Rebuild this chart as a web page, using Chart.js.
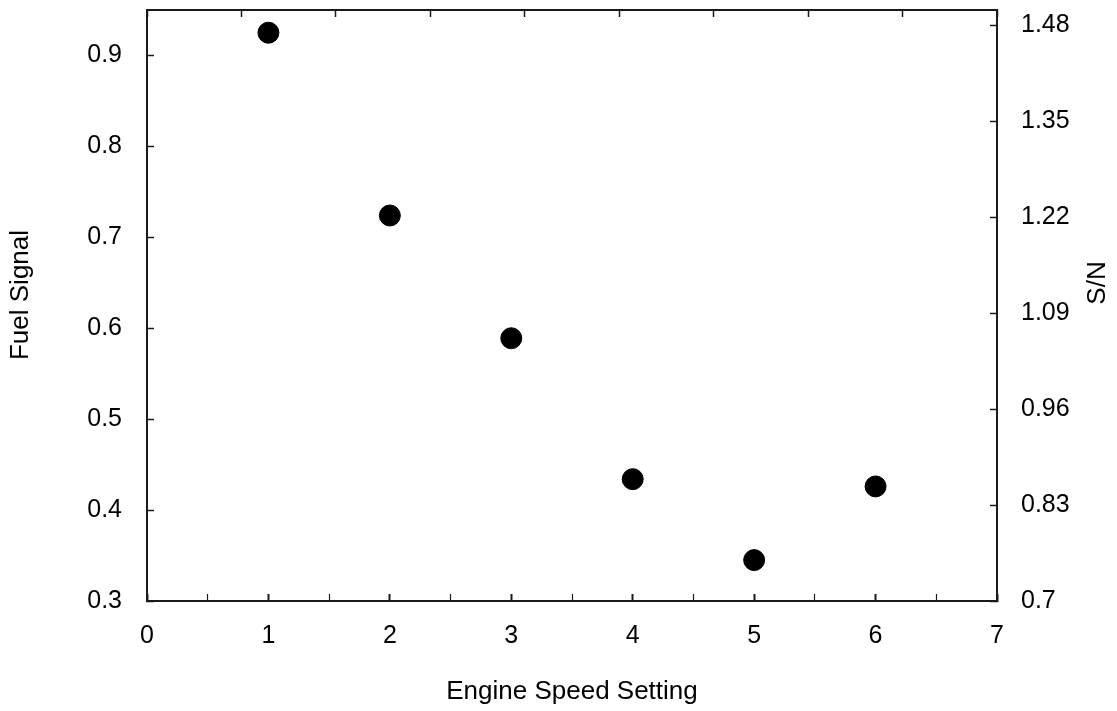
<!DOCTYPE html>
<html>
<head>
<meta charset="utf-8">
<title>Fuel Signal vs Engine Speed Setting</title>
<script src="https://cdn.jsdelivr.net/npm/chart.js@4.4.1/dist/chart.umd.min.js"></script>
<style>
    html, body { margin: 0; padding: 0; background: #fff; }
    #wrap { width: 1117px; height: 711px; position: relative; }
</style>
</head>
<body>
<div id="wrap"><canvas id="scatterChart"></canvas></div>
<script>
// 数据
const speedSettings = [1, 2, 3, 4, 5, 6];
const fuelSignal = [0.925, 0.724, 0.589, 0.434, 0.345, 0.426];

// 刻度
const xTicks = [0, 0.5, 1, 1.5, 2, 2.5, 3, 3.5, 4, 4.5, 5, 5.5, 6, 6.5, 7];
const leftTicks = [0.3, 0.4, 0.5, 0.6, 0.7, 0.8, 0.9];
const rightTicks = [0.7, 0.83, 0.96, 1.09, 1.22, 1.35, 1.48];
const topTicks = [0, 1, 2, 3, 4, 5, 6, 7, 8, 9];

const FONT = 'Liberation Sans, Arial, Helvetica, sans-serif';
const AXIS_COLOR = '#1a1a1a';

Chart.defaults.font.family = FONT;
Chart.defaults.color = '#000';

function useTicks(values) {
    return scale => { scale.ticks = values.map(v => ({ value: v })); };
}

// 固定轴的尺寸，去掉标签带来的额外留白
function fixSize(size) {
    return scale => {
        if (scale.isHorizontal()) {
            scale.height = size;
            scale.paddingLeft = scale.paddingRight = 0;
        } else {
            scale.width = size;
            scale.paddingTop = scale.paddingBottom = 0;
        }
    };
}

// 向内的刻度线
function inwardGrid(widthFn) {
    return {
        drawOnChartArea: false,
        drawTicks: true,
        tickLength: -7,
        tickColor: AXIS_COLOR,
        tickWidth: widthFn || 1.5
    };
}

const axisBorder = { display: true, color: AXIS_COLOR, width: 2 };

// 竖直轴标题
const axisTitles = {
    id: 'axisTitles',
    afterDraw(chart) {
        const { ctx, chartArea } = chart;
        ctx.save();
        ctx.fillStyle = '#000';
        ctx.font = '26px ' + FONT;
        ctx.textAlign = 'center';
        ctx.textBaseline = 'middle';

        ctx.save();
        ctx.translate(21, chartArea.top + 285);
        ctx.rotate(-Math.PI / 2);
        ctx.fillText('Fuel Signal', 0, 0);
        ctx.restore();

        ctx.save();
        ctx.translate(chartArea.right + 101, chartArea.top + 273);
        ctx.rotate(-Math.PI / 2);
        ctx.fillText('S/N', 0, 0);
        ctx.restore();

        ctx.restore();
    }
};

new Chart(document.getElementById('scatterChart'), {
    type: 'scatter',
    data: {
        datasets: [{
            label: 'Fuel Signal',
            data: speedSettings.map((s, i) => ({ x: s, y: fuelSignal[i] })),
            backgroundColor: '#000',
            borderColor: '#000',
            pointRadius: 10.5,
            pointHoverRadius: 10.5,
            xAxisID: 'x',
            yAxisID: 'y'
        }]
    },
    options: {
        responsive: true,
        maintainAspectRatio: false,
        animation: false,
        layout: { padding: 0, autoPadding: false },
        plugins: {
            legend: { display: false },
            tooltip: { enabled: false }
        },
        scales: {
            x: {
                type: 'linear',
                position: 'bottom',
                min: 0,
                max: 7,
                afterBuildTicks: useTicks(xTicks),
                afterFit: fixSize(110),
                grid: inwardGrid(ctx => Number.isInteger(ctx.tick.value) ? 2 : 1.2),
                border: axisBorder,
                ticks: {
                    autoSkip: false,
                    maxRotation: 0,
                    padding: 27,
                    font: { size: 25 },
                    callback: v => Number.isInteger(v) ? String(v) : ''
                },
                title: {
                    display: true,
                    text: 'Engine Speed Setting',
                    font: { size: 26 },
                    padding: { top: 0, bottom: 4 }
                }
            },
            x2: {
                type: 'linear',
                position: 'top',
                min: 0,
                max: 9,
                afterBuildTicks: useTicks(topTicks),
                afterFit: fixSize(10),
                grid: inwardGrid(1.5),
                border: axisBorder,
                ticks: { padding: 0, callback: () => '' }
            },
            y: {
                type: 'linear',
                position: 'left',
                min: 0.3,
                max: 0.95,
                afterBuildTicks: useTicks(leftTicks),
                afterFit: fixSize(147),
                grid: inwardGrid(1.5),
                border: axisBorder,
                ticks: {
                    padding: 32,
                    font: { size: 25 },
                    callback: v => v.toFixed(1)
                }
            },
            y2: {
                type: 'linear',
                position: 'right',
                min: 0.7,
                max: 1.501,
                afterBuildTicks: useTicks(rightTicks),
                afterFit: fixSize(120),
                grid: inwardGrid(1.5),
                border: axisBorder,
                ticks: {
                    padding: 31,
                    font: { size: 25 },
                    callback: v => String(+v.toFixed(2))
                }
            }
        }
    },
    plugins: [axisTitles]
});
</script>
</body>
</html>
